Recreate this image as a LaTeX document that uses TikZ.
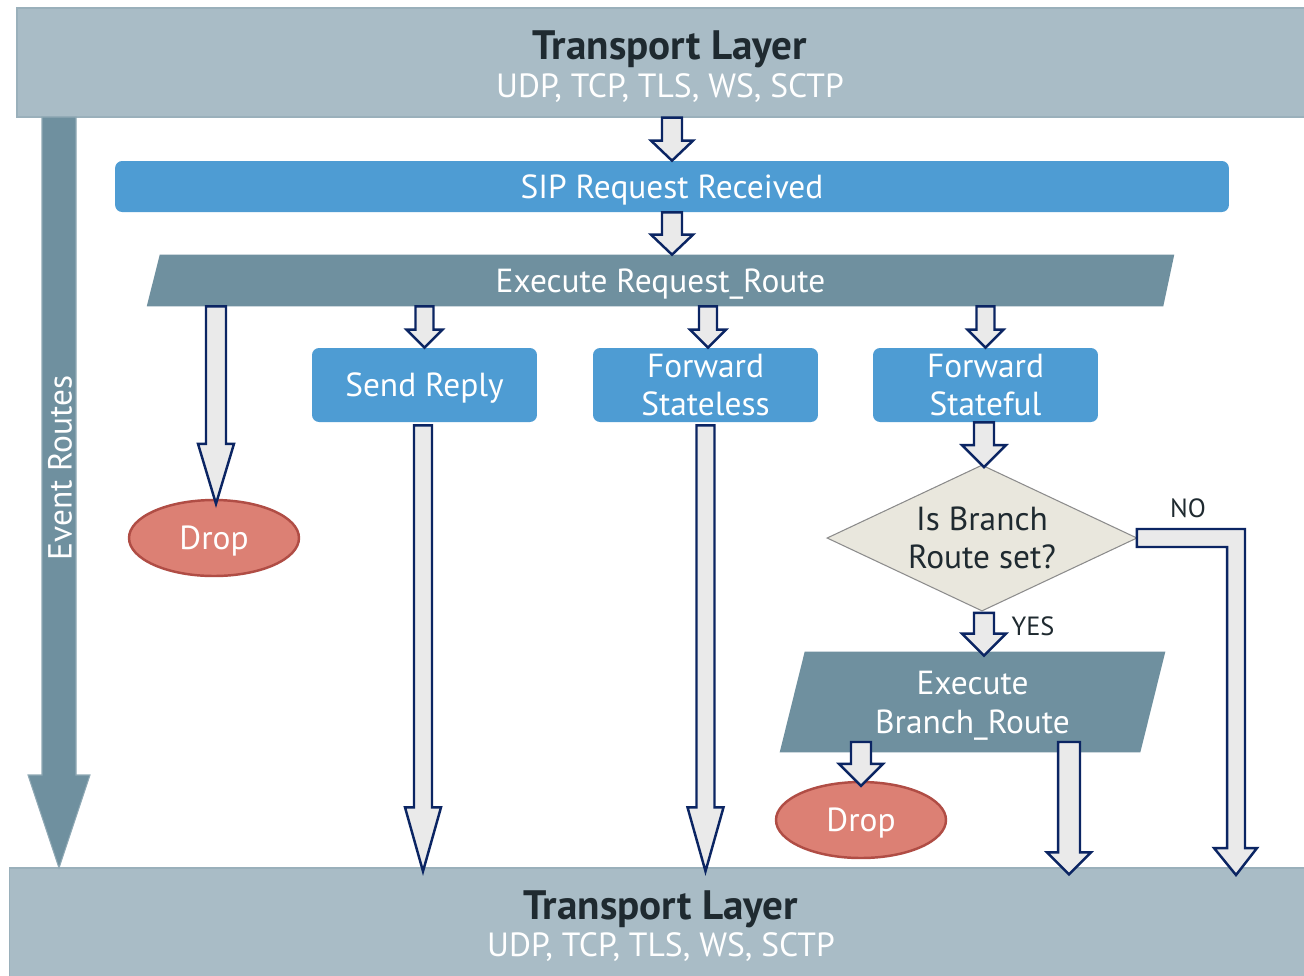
\documentclass[tikz,border=0pt]{standalone}
\usepackage{fontspec}
\setmainfont{PT Sans}
\usetikzlibrary{shapes.geometric,calc,backgrounds}
\definecolor{bandcol}{HTML}{A9BCC6}
\definecolor{bandline}{HTML}{9AB0BB}
\definecolor{darktxt}{HTML}{1F2A30}
\definecolor{boxblue}{HTML}{4E9CD3}
\definecolor{paracol}{HTML}{6F909F}
\definecolor{evline}{HTML}{90A9B5}
\definecolor{dropfill}{HTML}{DC8074}
\definecolor{dropline}{HTML}{B04D45}
\definecolor{decfill}{HTML}{E9E7DD}
\definecolor{decline}{HTML}{8C8C8C}
\definecolor{arrfill}{HTML}{EAEAEA}
\definecolor{navyline}{HTML}{0B2563}
\def\pxu{0.569pt}
\newcommand{\barr}[5]{%
  \draw[blockarrow] let \p1=#1, \p2=#2 in
    ({\x2-#3*\pxu},\y1) -- ({\x2-#3*\pxu},{\y2+#5*\pxu}) -- ({\x2-#4*\pxu},{\y2+#5*\pxu})
    -- (\x2,\y2) -- ({\x2+#4*\pxu},{\y2+#5*\pxu}) -- ({\x2+#3*\pxu},{\y2+#5*\pxu})
    -- ({\x2+#3*\pxu},\y1) -- cycle;}
\tikzset{
  band/.style={rectangle, fill=bandcol, draw=bandline, line width=0.8pt, inner sep=0pt},
  bandtitle/.style={text=darktxt, font=\fontsize{23.4}{28}\selectfont\bfseries, inner sep=0pt, text depth=0pt},
  bandsub/.style={text=white, font=\fontsize{19.1}{23}\selectfont, inner sep=0pt, text depth=0pt},
  bluebox/.style={rectangle, rounded corners=4pt, fill=boxblue, text=white, inner sep=0pt,
    align=center, font=\fontsize{19}{22}\selectfont},
  onel/.style={text depth=0pt},
  paratext/.style={rectangle, inner sep=0pt, text=white, align=center, font=\fontsize{19}{22}\selectfont},
  dropnode/.style={ellipse, fill=dropfill, draw=dropline, line width=1.4pt, text=white,
    minimum width=3.4cm, minimum height=1.52cm, inner sep=0pt, text depth=0pt, font=\fontsize{19}{22}\selectfont},
  dectext/.style={rectangle, text=darktxt, align=center,
    minimum width=6.18cm, minimum height=2.9cm, inner sep=0pt, font=\fontsize{19}{22}\selectfont},
  decshape/.style={fill=decfill, draw=decline, line width=0.6pt},
  smalllbl/.style={text=darktxt, inner sep=0pt, font=\fontsize{15}{18}\selectfont},
  evtext/.style={text=white, inner sep=0pt, font=\fontsize{19}{22}\selectfont},
  blockarrow/.style={fill=arrfill, draw=navyline, line width=1.4pt, line join=miter},
}
\begin{document}
\begin{tikzpicture}[x=0.02cm,y=-0.02cm]
\useasboundingbox (0,0) rectangle (1304,975);
% transport bands
\node[band, minimum width=25.9cm, minimum height=2.18cm] (top) at (664.5,62.5) {};
\node[bandtitle] (toptitle) at (670,45) {Transport Layer};
\node[bandsub] (topsub) at (670,86) {UDP, TCP, TLS, WS, SCTP};
\node[band, minimum width=26.1cm, minimum height=2.4cm] (bottom) at (662,928) {};
\node[bandtitle] (bottitle) at (661,905) {Transport Layer};
\node[bandsub] (botsub) at (661,945) {UDP, TCP, TLS, WS, SCTP};
% event routes arrow
\draw[fill=paracol, draw=evline, line width=0.6pt] (42,117) -- (42,775) -- (28,775) -- (59,868)
  -- (90,775) -- (76,775) -- (76,117) -- cycle;
\node[evtext, rotate=90] (evlabel) at (60,468) {Event Routes};
% main flow
\node[bluebox, onel, minimum width=22.28cm, minimum height=1.02cm] (sip) at (672,186.5) {SIP Request Received};
\node[paratext, onel, minimum width=20.54cm, minimum height=1.02cm] (exec) at (660.5,280.5) {Execute Request\_Route};
\node[bluebox, onel, minimum width=4.5cm, minimum height=1.48cm] (send) at (424.5,385) {Send Reply};
\node[bluebox, minimum width=4.5cm, minimum height=1.48cm] (fwdsl) at (705.5,385) {Forward\\Stateless};
\node[bluebox, minimum width=4.5cm, minimum height=1.48cm] (fwdsf) at (985.5,385) {Forward\\Stateful};
\node[dropnode] (drop1) at (214,538) {Drop};
\node[dectext] (dec) at (982,538) {Is Branch\\Route set?};
\node[paratext, minimum width=7.7cm, minimum height=2.0cm, text depth=0pt] (branch) at (972.5,702) {Execute\\Branch\_Route};
\node[dropnode] (drop2) at (861,820) {Drop};
\node[smalllbl] (nolbl) at (1188,508) {NO};
\node[smalllbl] (yeslbl) at (1033,626) {YES};
\begin{scope}[on background layer]
  \fill[white] (0,0) rectangle (1304,975);
  \fill[paracol] ([xshift=0.26cm]exec.north west) -- (exec.north east)
    -- ([xshift=-0.22cm]exec.south east) -- (exec.south west) -- cycle;
  \fill[paracol] ([xshift=0.5cm]branch.north west) -- (branch.north east)
    -- ([xshift=-0.5cm]branch.south east) -- (branch.south west) -- cycle;
  \filldraw[decshape] (dec.north) -- (dec.east) -- (dec.south) -- (dec.west) -- cycle;
\end{scope}
% block arrows
\barr{(top.south)}{(sip.north)}{10}{21}{20}
\barr{(sip.south)}{(sip.south |- exec.north)}{10}{21}{20}
\barr{(exec.south)}{([xshift=0.04cm,yshift=-0.1cm]drop1.north)}{10}{18}{60}
\barr{(exec.south)}{(send.north)}{9}{18}{18}
\barr{(exec.south)}{([xshift=0.05cm]fwdsl.north)}{9}{18}{18}
\barr{(exec.south)}{(fwdsf.north)}{9}{18}{18}
\barr{([yshift=-0.06cm]send.south)}{([xshift=-0.03cm,yshift=-0.08cm]send.south |- bottom.north)}{9}{18}{64}
\barr{([yshift=-0.06cm]fwdsl.south)}{([yshift=-0.08cm]fwdsl.south |- bottom.north)}{9}{18}{64}
\barr{(fwdsf.south)}{([xshift=0.04cm,yshift=-0.04cm]dec.north)}{10}{22}{22}
\barr{([yshift=-0.04cm]dec.south)}{([xshift=0.04cm,yshift=-0.08cm]dec.south |- branch.north)}{10}{22}{22}
\coordinate (bd2) at (861,742);
\barr{(bd2)}{([yshift=-0.1cm]drop2.north)}{10}{22}{22}
\coordinate (bbr) at (1069,742);
\barr{(bbr)}{([yshift=-0.14cm]bbr |- bottom.north)}{11}{22}{22}
\coordinate (notip) at (1236,875);
\draw[blockarrow] let \p1=(dec.east), \p2=(notip) in
  (\x1,{\y1+9*\pxu}) -- ({\x2+9*\pxu},{\y1+9*\pxu}) -- ({\x2+9*\pxu},{\y2+27*\pxu})
  -- ({\x2+21*\pxu},{\y2+27*\pxu}) -- (\x2,\y2) -- ({\x2-22*\pxu},{\y2+27*\pxu})
  -- ({\x2-9*\pxu},{\y2+27*\pxu}) -- ({\x2-9*\pxu},{\y1-9*\pxu}) -- (\x1,{\y1-9*\pxu}) -- cycle;
\end{tikzpicture}
\end{document}
